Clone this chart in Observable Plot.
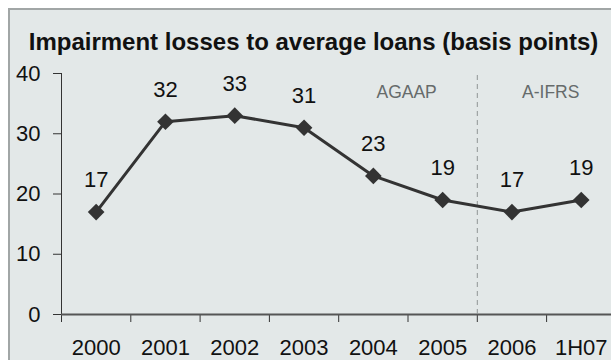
<!DOCTYPE html>
<html>
<head>
<meta charset="utf-8">
<script src="https://cdn.jsdelivr.net/npm/d3@7"></script>
<script src="https://cdn.jsdelivr.net/npm/@observablehq/plot@0.6"></script>
<style>
  html, body { margin: 0; padding: 0; background: #ffffff; width: 611px; height: 360px; overflow: hidden; }
  #box { position: absolute; left: 8px; top: 8px; width: 700px; height: 420px; border: 2px solid #a1a6a6; background: #e3e8e8; }
  #chart { position: absolute; left: 0; top: 0; }
</style>
</head>
<body>
<div id="box"></div>
<div id="chart"></div>
<script>
const titleText = "Impairment losses to average loans (basis points)";
const categories = ["2000", "2001", "2002", "2003", "2004", "2005", "2006", "1H07"];
const values = [17, 32, 33, 31, 23, 19, 17, 19];
const yTicks = [0, 10, 20, 30, 40];
const regimeLabels = ["AGAAP", "A-IFRS"];
const regimeLabelX = [4.98, 7.06];   // in category-index units
const regimeLabelY = [36.9, 36.9];
const regimeBoundary = [6];          // between 2005 and 2006

const data = categories.map((c, i) => ({cat: c, idx: i + 0.5, value: values[i]}));
const regimes = regimeLabels.map((t, i) => ({text: t, x: regimeLabelX[i], y: regimeLabelY[i]}));
const boundaries = d3.range(categories.length);
const labelPos = categories.map((c, i) => i + 0.5);

const font = "'Liberation Sans', Arial, sans-serif";

const chart = Plot.plot({
  width: 611,
  height: 360,
  marginLeft: 61,
  marginRight: 0,
  marginTop: 73,
  marginBottom: 46,
  style: {background: "transparent", fontFamily: font, overflow: "visible", color: "#111"},
  x: {type: "linear", domain: [0, categories.length], range: [61, 61 + 69.3 * categories.length]},
  y: {type: "linear", domain: [0, 40], range: [314, 73]},
  marks: [
    // title
    Plot.text([titleText], {frameAnchor: "top", dx: -23, dy: -40.7, fontSize: 24, fontWeight: "bold", fill: "#111"}),
    // y axis
    Plot.axisY({ticks: yTicks, tickSize: 8, tickPadding: 13, fontSize: 22, stroke: "#333", fill: "#111", label: null}),
    Plot.ruleX([0], {y1: 0, y2: 40, stroke: "#333", strokeWidth: 1}),
    // x axis tick marks at category boundaries
    Plot.axisX({ticks: boundaries, tickSize: 8, tickFormat: () => "", stroke: "#333", label: null}),
    // x axis labels at category centers
    Plot.axisX({ticks: labelPos, tickSize: 0, tickPadding: 25, fontSize: 22, fill: "#111", tickFormat: d => categories[Math.round(d - 0.5)], label: null}),
    Plot.ruleY([0], {x1: 0, x2: categories.length, stroke: "#555", strokeWidth: 2}),
    // regime boundary
    Plot.ruleX(regimeBoundary, {y1: 0, y2: 40, stroke: "#8f9494", strokeWidth: 1, strokeDasharray: "5,4"}),
    Plot.text(regimes, {x: "x", y: "y", text: "text", fontSize: 17.5, fill: "#666b6b"}),
    // series
    Plot.line(data, {x: "idx", y: "value", stroke: "#333", strokeWidth: 3}),
    Plot.dot(data, {x: "idx", y: "value", symbol: "diamond2", r: 7.5, fill: "#333", stroke: "none"}),
    Plot.text(data, {x: "idx", y: "value", text: d => String(d.value), dy: -32, fontSize: 22, fill: "#111"})
  ]
});
document.getElementById("chart").appendChild(chart);
</script>
</body>
</html>
